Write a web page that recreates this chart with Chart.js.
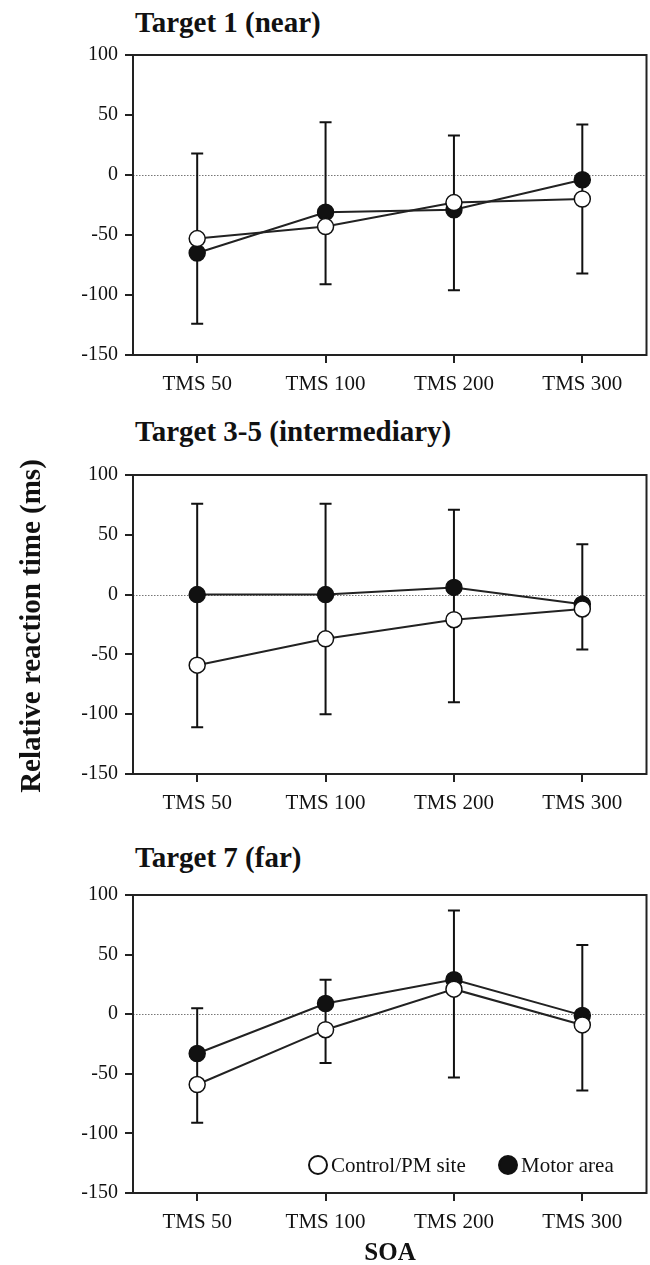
<!DOCTYPE html>
<html lang="en">
<head>
    <meta charset="UTF-8">
    <title>Relative reaction time by SOA</title>
    <script src="https://cdn.jsdelivr.net/npm/chart.js"></script>
    <style>
        body {
            margin: 0;
            background: white;
            font-family: "Liberation Serif", "Times New Roman", serif;
            color: #111;
        }
        .page {
            position: relative;
            width: 650px;
            height: 1265px;
            overflow: hidden;
        }
        .panel-title {
            position: absolute;
            left: 135px;
            font-size: 29px;
            line-height: 29px;
            font-weight: bold;
            white-space: nowrap;
        }
        .panel {
            position: absolute;
            left: 0;
            width: 656px;
        }
        .y-title {
            position: absolute;
            left: -170px;
            top: 611px;
            width: 400px;
            height: 30px;
            line-height: 30px;
            text-align: center;
            font-size: 29px;
            font-weight: bold;
            transform: rotate(-90deg);
            white-space: nowrap;
        }
        .x-title {
            position: absolute;
            left: 290px;
            top: 1237px;
            width: 200px;
            line-height: 30px;
            text-align: center;
            font-size: 25px;
            font-weight: bold;
        }
    </style>
</head>
<body>
<div class="page">
    <div class="panel-title" style="top: 8px">Target 1 (near)</div>
    <div class="panel-title" style="top: 417px">Target 3-5 (intermediary)</div>
    <div class="panel-title" style="top: 843px">Target 7 (far)</div>

    <div class="panel" style="top: 36px"><canvas id="chart1" width="656" height="369"></canvas></div>
    <div class="panel" style="top: 456px"><canvas id="chart2" width="656" height="368"></canvas></div>
    <div class="panel" style="top: 876px"><canvas id="chart3" width="656" height="367"></canvas></div>

    <div class="y-title">Relative reaction time (ms)</div>
    <div class="x-title">SOA</div>
</div>

<script>
    // x categories
    const soaLabels = ["TMS 50", "TMS 100", "TMS 200", "TMS 300"];

    // y axis
    const yMin = -150;
    const yMax = 100;
    const yStep = 50;

    const seriesNames = ["Control/PM site", "Motor area"];

    // Target 1 (near)
    const nearControl = [-53, -43, -23, -20];
    const nearMotor = [-65, -31, -29, -4];
    const nearControlErr = [71, 48, 73, 62];   // drawn downward
    const nearMotorErr = [83, 75, 62, 46];     // drawn upward

    // Target 3-5 (intermediary)
    const midControl = [-59, -37, -21, -12];
    const midMotor = [0, 0, 6, -8];
    const midControlErr = [52, 63, 69, 34];
    const midMotorErr = [76, 76, 65, 50];

    // Target 7 (far)
    const farControl = [-59, -13, 21, -9];
    const farMotor = [-33, 9, 29, -1];
    const farControlErr = [32, 28, 74, 55];
    const farMotorErr = [38, 20, 58, 59];

    const serif = "'Liberation Serif', 'Times New Roman', serif";
    const ink = "#111";

    // dotted zero line + error bars behind the markers, frame on top
    const panelDecor = {
        id: "panelDecor",
        beforeDatasetsDraw(chart) {
            const { ctx, chartArea: a, scales: { x, y } } = chart;
            ctx.save();

            const y0 = Math.round(y.getPixelForValue(0)) + 0.5;
            ctx.strokeStyle = "#777";
            ctx.lineWidth = 1;
            ctx.setLineDash([1.5, 1.5]);
            ctx.beginPath();
            ctx.moveTo(a.left, y0);
            ctx.lineTo(a.right, y0);
            ctx.stroke();
            ctx.setLineDash([]);

            const [ctrl, motor] = chart.data.datasets;
            ctx.strokeStyle = ink;
            ctx.lineWidth = 2;
            chart.data.labels.forEach((label, i) => {
                const px = x.getPixelForValue(i);
                const ends = [
                    ctrl.data[i] - ctrl.errDown[i],
                    motor.data[i] + motor.errUp[i],
                    ctrl.data[i], motor.data[i],
                ];
                const top = y.getPixelForValue(Math.max(...ends));
                const bottom = y.getPixelForValue(Math.min(...ends));
                ctx.beginPath();
                ctx.moveTo(px, top);
                ctx.lineTo(px, bottom);
                ctx.moveTo(px - 6, top);
                ctx.lineTo(px + 6, top);
                ctx.moveTo(px - 6, bottom);
                ctx.lineTo(px + 6, bottom);
                ctx.stroke();
            });
            ctx.restore();
        },
        afterDraw(chart) {
            const { ctx, chartArea: a } = chart;
            ctx.save();
            ctx.strokeStyle = "#222";
            ctx.lineWidth = 2;
            ctx.strokeRect(a.left, a.top, a.right - a.left, a.bottom - a.top);
            ctx.restore();
        },
    };

    // legend drawn inside the plot, bottom right
    const insideLegend = {
        id: "insideLegend",
        afterDraw(chart) {
            const { ctx, chartArea: a } = chart;
            const ly = a.bottom - 28;
            const xs = [a.left + 185, a.left + 375];
            ctx.save();
            ctx.font = "21px " + serif;
            ctx.textBaseline = "middle";
            chart.data.datasets.forEach((ds, i) => {
                ctx.beginPath();
                ctx.arc(xs[i], ly, 9, 0, Math.PI * 2);
                ctx.fillStyle = ds.pointBackgroundColor;
                ctx.fill();
                ctx.lineWidth = 2;
                ctx.strokeStyle = ink;
                ctx.stroke();
                ctx.fillStyle = ink;
                ctx.fillText(ds.label, xs[i] + 13, ly + 1);
            });
            ctx.restore();
        },
    };

    const makePanel = (id, control, motor, controlErr, motorErr, withLegend) => {
        const ctx = document.getElementById(id).getContext("2d");
        const lineStyle = {
            borderColor: "#222",
            borderWidth: 2,
            pointRadius: 8,
            pointHoverRadius: 8,
            pointBorderWidth: 1.5,
            pointBorderColor: ink,
            tension: 0,
        };
        return new Chart(ctx, {
            type: "line",
            data: {
                labels: soaLabels,
                datasets: [
                    { ...lineStyle, label: seriesNames[0], data: control, errDown: controlErr,
                      pointBackgroundColor: "#fff", backgroundColor: "#fff" },
                    { ...lineStyle, label: seriesNames[1], data: motor, errUp: motorErr,
                      pointBackgroundColor: ink, backgroundColor: ink },
                ],
            },
            options: {
                responsive: false,
                animation: false,
                events: [],
                layout: { padding: { top: 12, left: 60, right: 4, bottom: 0 } },
                plugins: { legend: { display: false }, tooltip: { enabled: false } },
                scales: {
                    x: {
                        offset: true,
                        border: { display: false },
                        grid: { offset: false, drawOnChartArea: false, drawTicks: true, tickLength: 8, color: "#222", lineWidth: 2 },
                        ticks: { color: ink, font: { family: serif, size: 21 }, padding: 9, maxRotation: 0 },
                        afterFit: (scale) => { scale.height = 50; },
                    },
                    y: {
                        min: yMin,
                        max: yMax,
                        border: { display: false },
                        grid: { drawOnChartArea: false, drawTicks: true, tickLength: 8, color: "#222", lineWidth: 2 },
                        ticks: { stepSize: yStep, color: ink, font: { family: serif, size: 20 }, padding: 7 },
                        afterFit: (scale) => { scale.width = 73; },
                    },
                },
            },
            plugins: withLegend ? [panelDecor, insideLegend] : [panelDecor],
        });
    };

    makePanel("chart1", nearControl, nearMotor, nearControlErr, nearMotorErr, false);
    makePanel("chart2", midControl, midMotor, midControlErr, midMotorErr, false);
    makePanel("chart3", farControl, farMotor, farControlErr, farMotorErr, true);
</script>
</body>
</html>
